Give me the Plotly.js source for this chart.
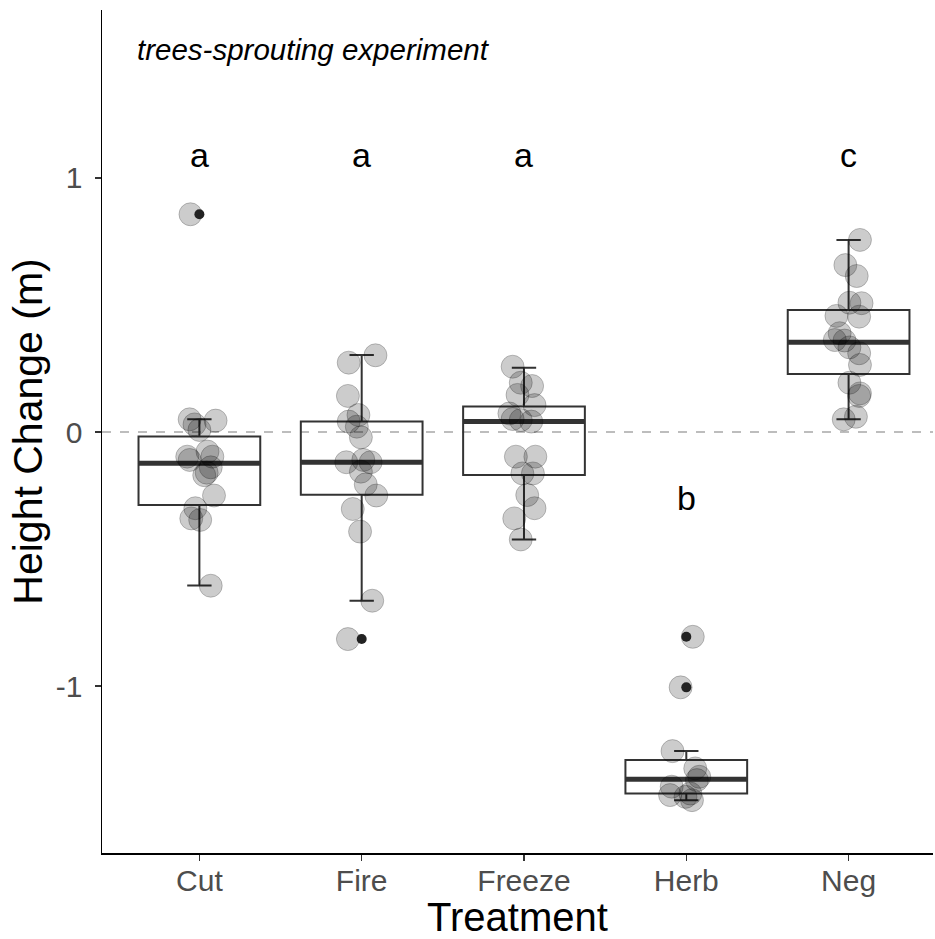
<!DOCTYPE html>
<html>
<head>
<meta charset="utf-8">
<script src="https://cdn.plot.ly/plotly-3.0.1.min.js"></script>
<style>html,body{margin:0;padding:0;background:#fff}#chart{width:935px;height:939px}</style>
</head>
<body>
<div id="chart"></div>
<script>
// ---- data ----
const categories = ["Cut", "Fire", "Freeze", "Herb", "Neg"];

const cutVals  = [0.857, 0.05, 0.03, 0.045, 0.008, -0.097, -0.11, -0.077, -0.097, -0.139, -0.16, -0.17, -0.25, -0.30, -0.34, -0.346, -0.605];
const cutJit   = [-0.055, -0.06, -0.03, 0.10, 0.0, -0.075, -0.06, 0.05, 0.08, 0.07, 0.045, 0.03, 0.09, -0.025, -0.05, 0.005, 0.07];
const fireVals = [0.273, 0.302, 0.142, 0.067, 0.041, 0.021, -0.021, -0.119, -0.11, -0.119, -0.156, -0.206, -0.25, -0.303, -0.392, -0.664, -0.815];
const fireJit  = [-0.08, 0.085, -0.085, -0.02, -0.08, -0.03, -0.005, -0.095, 0.01, 0.055, -0.005, 0.025, 0.09, -0.055, -0.01, 0.065, -0.085];
const freezeVals = [0.257, 0.194, 0.181, 0.146, 0.106, 0.073, 0.051, 0.047, 0.041, -0.097, -0.097, -0.163, -0.163, -0.248, -0.30, -0.34, -0.423];
const freezeJit  = [-0.07, -0.02, 0.05, -0.04, 0.065, -0.09, -0.07, -0.02, 0.045, -0.05, 0.07, -0.01, 0.055, 0.02, 0.065, -0.06, -0.02];
const herbVals = [-0.806, -1.005, -1.256, -1.324, -1.357, -1.37, -1.396, -1.429, -1.423, -1.449, -1.436];
const herbJit  = [0.04, -0.035, -0.085, 0.055, 0.08, 0.065, -0.09, -0.1, 0.025, 0.035, -0.005];
const negVals  = [0.756, 0.657, 0.614, 0.509, 0.507, 0.454, 0.457, 0.389, 0.362, 0.36, 0.333, 0.31, 0.264, 0.194, 0.152, 0.142, 0.05, 0.06];
const negJit   = [0.07, -0.02, 0.05, 0.005, 0.08, 0.065, -0.075, -0.055, -0.085, -0.025, 0.005, 0.065, 0.07, 0.005, 0.07, 0.065, -0.03, 0.045];

// box statistics (per category)
const boxQ1     = [-0.287, -0.247, -0.169, -1.423, 0.228];
const boxMedian = [-0.123, -0.119, 0.041, -1.367, 0.353];
const boxQ3     = [-0.018, 0.041, 0.100, -1.291, 0.480];
const boxLower  = [-0.604, -0.664, -0.423, -1.449, 0.050];
const boxUpper  = [0.050, 0.303, 0.253, -1.256, 0.756];

// outliers
const outlierCat  = [0, 1, 3, 3];
const outlierVals = [0.857, -0.815, -0.806, -1.005];

// significance letters
const letters   = ["a", "a", "a", "b", "c"];
const letterY   = [1.09, 1.09, 1.09, -0.26, 1.09];

const allVals = [cutVals, fireVals, freezeVals, herbVals, negVals];
const allJit  = [cutJit, fireJit, freezeJit, herbJit, negJit];

// ---- build traces ----
const catIdx = categories.map((c, i) => i);
const BOXW = 0.75;
const FONT = "Liberation Sans, Arial, sans-serif";
const traces = [];

traces.push({
  type: "box",
  x: catIdx,
  q1: boxQ1, median: boxMedian, q3: boxQ3,
  lowerfence: boxLower, upperfence: boxUpper,
  width: BOXW,
  whiskerwidth: 0.2,
  boxpoints: false,
  fillcolor: "rgba(255,255,255,0)",
  line: {color: "#333333", width: 2},
  hoverinfo: "skip",
  showlegend: false
});

// thick median lines
const mx = [], my = [];
catIdx.forEach(i => { mx.push(i - BOXW / 2, i + BOXW / 2, null); my.push(boxMedian[i], boxMedian[i], null); });
traces.push({
  type: "scatter", mode: "lines", x: mx, y: my,
  line: {color: "#333333", width: 5}, hoverinfo: "skip", showlegend: false
});

// jittered points
const px = [], py = [];
allVals.forEach((vals, i) => vals.forEach((v, k) => { px.push(i + allJit[i][k]); py.push(v); }));
traces.push({
  type: "scatter", mode: "markers", x: px, y: py,
  marker: {size: 23, color: "rgba(0,0,0,0.2)", line: {color: "rgba(0,0,0,0.22)", width: 1}},
  hoverinfo: "skip", showlegend: false
});

// outlier dots
traces.push({
  type: "scatter", mode: "markers", x: outlierCat, y: outlierVals,
  marker: {size: 10, color: "#222222"},
  hoverinfo: "skip", showlegend: false
});

const annotations = letters.map((t, i) => ({
  x: i, y: letterY[i], xref: "x", yref: "y", text: t, showarrow: false,
  font: {family: FONT, size: 34, color: "#000"}
}));
annotations.push({
  xref: "paper", yref: "paper", x: 0.04, y: 0.953, xanchor: "left", yanchor: "middle",
  text: "<i>trees-sprouting experiment</i>", showarrow: false,
  font: {family: FONT, size: 29.5, color: "#000"}
});

const layout = {
  width: 935, height: 939,
  margin: {l: 102, r: 2, t: 10, b: 86},
  paper_bgcolor: "#fff", plot_bgcolor: "#fff",
  font: {family: FONT},
  showlegend: false,
  xaxis: {
    range: [-0.6, 4.52],
    tickvals: catIdx, ticktext: categories,
    showgrid: false, zeroline: false,
    showline: true, linecolor: "#000", linewidth: 1.5,
    ticks: "outside", ticklen: 6, tickcolor: "#333", tickwidth: 1.3,
    ticklabelstandoff: -6,
    tickfont: {size: 30, color: "#4d4d4d"},
    title: {text: "Treatment", font: {size: 40, color: "#000"}, standoff: 0}
  },
  yaxis: {
    range: [-1.657, 1.661],
    tickvals: [-1, 0, 1], ticktext: ["-1", "0", "1"],
    showgrid: false, zeroline: false,
    showline: true, linecolor: "#000", linewidth: 1.5,
    ticks: "outside", ticklen: 6, tickcolor: "#333", tickwidth: 1.3,
    ticklabelstandoff: 6,
    tickfont: {size: 30, color: "#4d4d4d"},
    title: {text: "Height Change (m)", font: {size: 41, color: "#000"}, standoff: 0}
  },
  shapes: [{
    type: "line", xref: "paper", x0: 0, x1: 1, yref: "y", y0: 0, y1: 0,
    line: {color: "#bdbdbd", width: 2, dash: "dash"}, layer: "below"
  }],
  annotations: annotations
};

Plotly.newPlot("chart", traces, layout, {displayModeBar: false, staticPlot: true});
</script>
</body>
</html>
